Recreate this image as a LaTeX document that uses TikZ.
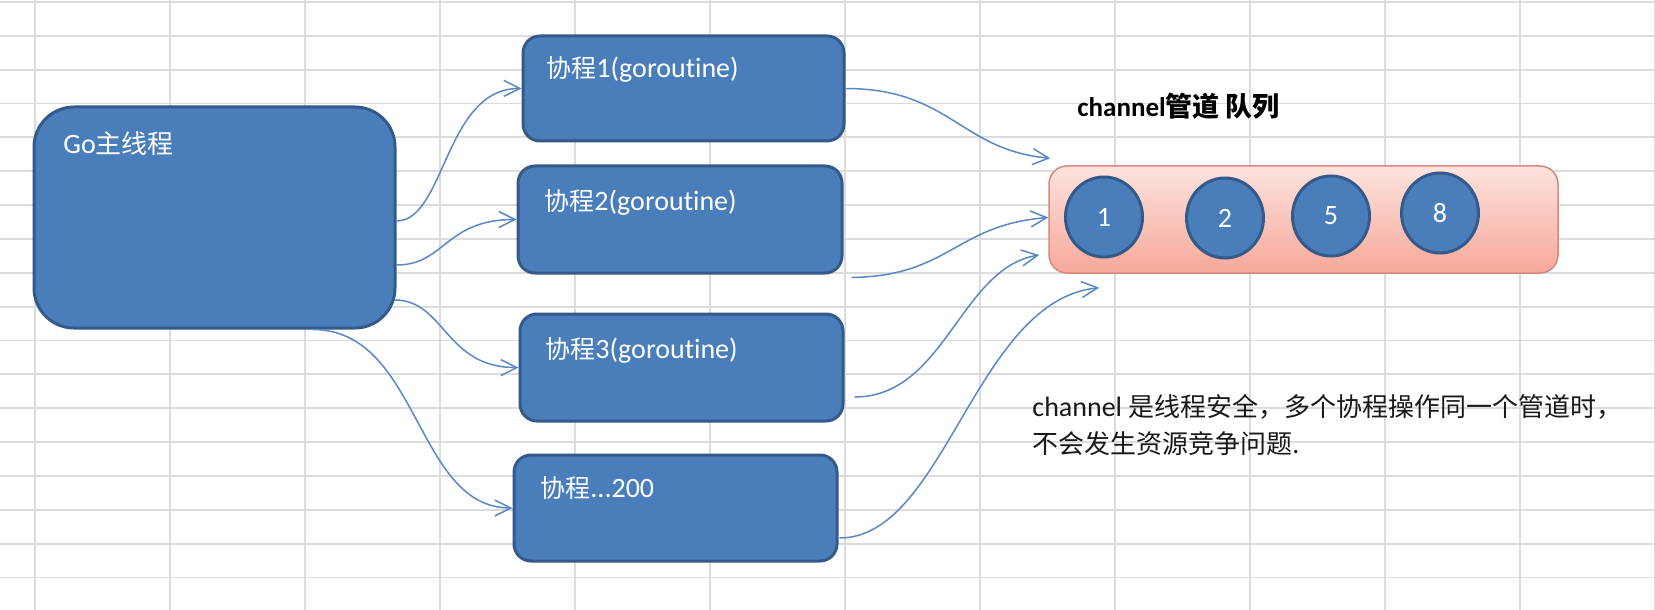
\documentclass[tikz,border=0pt]{standalone}
\usepackage{fontspec}
\setmainfont{Carlito}[Ligatures=CommonOff]
\newfontfamily\cjk{Noto Sans CJK SC}
\usetikzlibrary{arrows.meta,shapes.geometric,calc}
\definecolor{boxfill}{HTML}{4A7EBB}
\definecolor{boxedge}{HTML}{345A8A}
\definecolor{arrowc}{HTML}{5A88C6}
\definecolor{gridc}{HTML}{DCDCDC}
\definecolor{chtop}{HTML}{FDE3DE}
\definecolor{chbot}{HTML}{F6A899}
\definecolor{chedge}{HTML}{D8877D}
\newcommand\zhtxt[2]{{\cjk\fontsize{#1}{#1}\selectfont #2}}
\begin{document}
\begin{tikzpicture}[x=0.5pt,y=-0.5pt,
  box/.style={draw=boxedge,fill=boxfill,line width=1.5pt,rounded corners=8.5pt,inner sep=0pt},
  boxtext/.style={anchor=base west,inner sep=0pt,text=white,font=\fontsize{14}{16}\selectfont},
  plaintext/.style={anchor=base west,inner sep=0pt,text=black!90,font=\fontsize{14}{16}\selectfont},
  ball/.style={ellipse,draw=boxedge,fill=boxfill,line width=1.5pt,minimum width=38.5pt,minimum height=40pt,inner sep=0pt,text=white,font=\fontsize{14}{16}\selectfont},
  conn/.style={draw=arrowc,line width=0.75pt,-{Straight Barb[length=8pt,width=8pt]}},
  gridline/.style={draw=gridc,line width=0.9pt}]
\useasboundingbox (0,0) rectangle (1655,610);
\fill[white] (0,0) rectangle (1655,610);
% spreadsheet grid
\foreach \gx in {35,170,...,1655} \draw[gridline] (\gx,0) -- (\gx,610);
\foreach \k in {0,...,18} \draw[gridline] (0,{2+33.85*\k}) -- (1655,{2+33.85*\k});
% boxes
\node[box,rounded corners=20pt,minimum width=180.5pt,minimum height=110.5pt] (go) at (214.5,217.5) {};
\node[box,minimum width=160.5pt,minimum height=52.5pt] (p1) at (683.5,88.5) {};
\node[box,minimum width=162pt,minimum height=53.5pt] (p2) at (680,219.5) {};
\node[box,minimum width=161.5pt,minimum height=53.5pt] (p3) at (681.5,367.5) {};
\node[box,minimum width=161.5pt,minimum height=53pt] (p4) at (675.5,508) {};
\node[draw=chedge,line width=0.75pt,top color=chtop,bottom color=chbot,rounded corners=9pt,minimum width=254.5pt,minimum height=53.5pt,inner sep=0pt] (ch) at (1303.5,219.5) {};
% queue items
\node[ball] (c1) at (1104,217) {1};
\node[ball] (c2) at (1225,218) {2};
\node[ball] (c5) at (1331,216) {5};
\node[ball] (c8) at (1440,213) {8};
% texts
\node[boxtext] (tgo) at (63,154) {Go\zhtxt{13}{主线程}};
\node[boxtext] (t1) at (546,78) {\zhtxt{12.5}{协程}1(goroutine)};
\node[boxtext] (t2) at (544,210) {\zhtxt{12.5}{协程}2(goroutine)};
\node[boxtext] (t3) at (545,358) {\zhtxt{12.5}{协程}3(goroutine)};
\node[boxtext] (t4) at (540,497) {\zhtxt{12.5}{协程}...200};
\node[plaintext,font=\bfseries\fontsize{13.5}{16}\selectfont,text=black] (title) at (1077,117) {channel\zhtxt{13.5}{\bfseries 管道 队列}};
\node[plaintext] (n1) at (1032,416) {channel \zhtxt{13}{是线程安全，多个协程操作同一个管道时，}};
\node[plaintext] (n2) at (1032,453) {\zhtxt{13}{不会发生资源竞争问题}.};
% connectors
\draw[conn] ($(go.east)+(0,3.5)$) .. controls (445,221) and (445,88) .. (p1.west);
\draw[conn] ($(go.east)+(0,47.5)$) .. controls (445,265) and (445,219.5) .. (p2.west);
\draw[conn] ($(go.east)+(-2,82.5)$) .. controls (445,300) and (445,368) .. (p3.west);
\draw[conn] ($(go.south)+(98.5,0)$) .. controls (420,330) and (415,508) .. (p4.west);
\draw[conn] (p1.east) .. controls (950,88.5) and (960,150) .. ($(ch.north west)+(2,-7)$);
\draw[conn] ($(p2.south east)+(8,3)$) .. controls (950,276) and (955,225) .. ($(ch.west)+(0,-2)$);
\draw[conn] ($(p3.east)+(10,29.5)$) .. controls (945,397) and (960,268) .. ($(ch.west)+(-9,35.5)$);
\draw[conn] ($(p4.east)+(1,30)$) .. controls (945,538) and (975,300) .. ($(ch.south west)+(51,14)$);
\end{tikzpicture}
\end{document}
